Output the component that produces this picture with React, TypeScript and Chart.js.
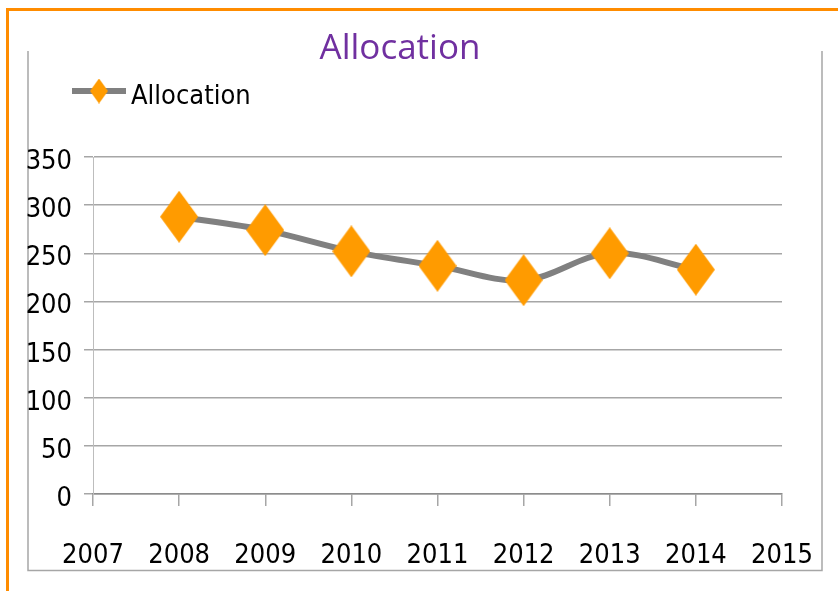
import React, { useEffect, useRef } from "react";
import { Chart, registerables } from "chart.js";

Chart.register(...registerables);

const titleText = "Allocation";
const seriesName = "Allocation";
const years = [2008, 2009, 2010, 2011, 2012, 2013, 2014];
const allocation = [288, 274, 252, 237, 222, 250, 233];
const xTickValues = [2007, 2008, 2009, 2010, 2011, 2012, 2013, 2014, 2015];
const yMin = 0;
const yMax = 350;
const yStep = 50;

const W = 838;
const H = 591;
const AXIS_FONT = '"DejaVu Sans Condensed", "Liberation Sans Narrow", "Liberation Sans", sans-serif';
const AXIS_SIZE = 27;
const LINE_COLOR = "#808080";
const MARKER_COLOR = "#ff9b00";

function makeDiamond(w: number, h: number, color: string): HTMLCanvasElement {
  const c = document.createElement("canvas");
  c.width = w;
  c.height = h;
  const ctx = c.getContext("2d")!;
  ctx.fillStyle = color;
  ctx.beginPath();
  ctx.moveTo(w / 2, 0);
  ctx.lineTo(w, h / 2);
  ctx.lineTo(w / 2, h);
  ctx.lineTo(0, h / 2);
  ctx.closePath();
  ctx.fill();
  return c;
}

export default function App() {
  const ref = useRef<HTMLCanvasElement | null>(null);

  useEffect(() => {
    if (!ref.current) return;
    const bigDiamond = makeDiamond(38, 52, MARKER_COLOR);
    const smallDiamond = makeDiamond(18, 25, MARKER_COLOR);

    const decor = {
      id: "decor",
      beforeDraw(chart: any) {
        const ctx = chart.ctx;
        ctx.save();
        ctx.strokeStyle = "#ff8c00";
        ctx.lineWidth = 3;
        ctx.beginPath();
        ctx.moveTo(7.5, H);
        ctx.lineTo(7.5, 9.5);
        ctx.lineTo(W, 9.5);
        ctx.stroke();
        ctx.strokeStyle = "#a6a6a6";
        ctx.lineWidth = 1.5;
        ctx.beginPath();
        ctx.moveTo(28, 51);
        ctx.lineTo(28, 570.5);
        ctx.lineTo(822, 570.5);
        ctx.lineTo(822, 51);
        ctx.stroke();
        ctx.restore();
      },
      afterDraw(chart: any) {
        const ctx = chart.ctx;
        ctx.save();
        ctx.fillStyle = "#7030a0";
        ctx.font = '35px "Open Sans", Lato, sans-serif';
        ctx.textAlign = "center";
        ctx.textBaseline = "alphabetic";
        ctx.fillText(titleText, 400, 59);
        ctx.strokeStyle = LINE_COLOR;
        ctx.lineWidth = 6;
        ctx.beginPath();
        ctx.moveTo(72, 91);
        ctx.lineTo(126, 91);
        ctx.stroke();
        ctx.drawImage(smallDiamond, 99 - 9, 91 - 12.5);
        ctx.fillStyle = "#000";
        ctx.font = `${AXIS_SIZE}px ${AXIS_FONT}`;
        ctx.textAlign = "left";
        ctx.fillText(seriesName, 131, 104);
        ctx.restore();
      },
    };

    const chart = new Chart(ref.current, {
      type: "line",
      data: {
        datasets: [
          {
            label: seriesName,
            data: years.map((y, i) => ({ x: y, y: allocation[i] })),
            borderColor: LINE_COLOR,
            backgroundColor: MARKER_COLOR,
            borderWidth: 6,
            tension: 0.35,
            fill: false,
            pointStyle: bigDiamond as any,
            pointRadius: 20,
            pointHoverRadius: 20,
          },
        ],
      },
      options: {
        animation: false,
        responsive: false,
        maintainAspectRatio: false,
        layout: { padding: { top: 157, right: 56, bottom: 0, left: 0 } },
        plugins: {
          legend: { display: false },
          title: { display: false },
          tooltip: { enabled: false },
        },
        scales: {
          x: {
            type: "linear",
            min: xTickValues[0],
            max: xTickValues[xTickValues.length - 1],
            afterBuildTicks: (s: any) => {
              s.ticks = xTickValues.map((v) => ({ value: v }));
            },
            afterFit: (s: any) => {
              s.height = 97;
              s.paddingLeft = 0;
              s.paddingRight = 0;
            },
            ticks: {
              color: "#000",
              font: { family: AXIS_FONT, size: AXIS_SIZE },
              padding: 34,
              maxRotation: 0,
              autoSkip: false,
              callback: (v: any) => String(v),
            },
            grid: { drawOnChartArea: false, tickLength: 12, color: "#a6a6a6", lineWidth: 1.5 },
            border: { color: "#8c8c8c", width: 1.5 },
          },
          y: {
            min: yMin,
            max: yMax,
            afterFit: (s: any) => {
              s.width = 93;
              s.paddingTop = 0;
              s.paddingBottom = 0;
            },
            ticks: {
              stepSize: yStep,
              color: "#000",
              font: { family: AXIS_FONT, size: AXIS_SIZE },
              padding: 12,
              labelOffset: 5,
            },
            grid: { color: "#a6a6a6", lineWidth: 1.5, tickLength: 9 },
            border: { color: "#bdbdbd", width: 1 },
          },
        },
      },
      plugins: [decor],
    });
    return () => chart.destroy();
  }, []);

  return (
    <div style={{ position: "absolute", left: 0, top: 0, width: W, height: H, background: "#fff" }}>
      <canvas ref={ref} width={W} height={H} style={{ display: "block", width: W, height: H }} />
    </div>
  );
}
